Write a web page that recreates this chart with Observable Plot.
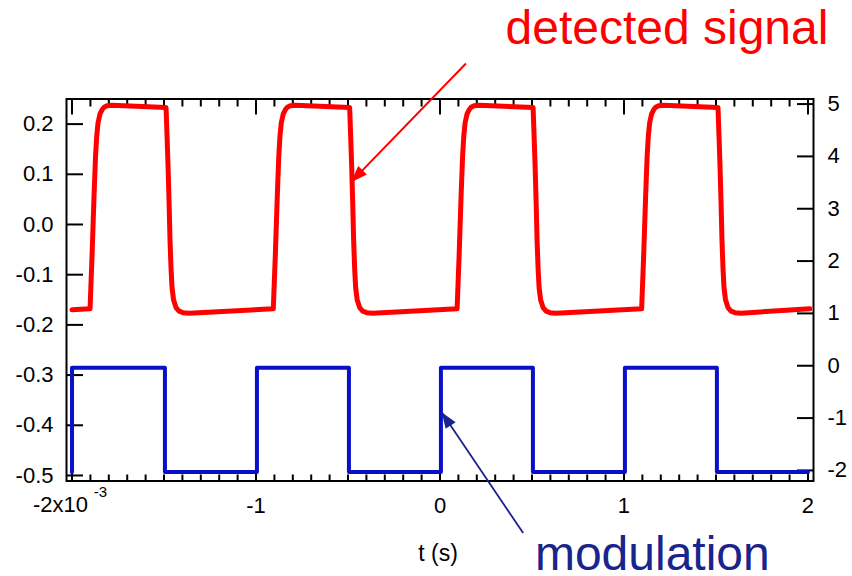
<!DOCTYPE html>
<html><head><meta charset="utf-8">
<script src="https://cdn.jsdelivr.net/npm/d3@7"></script>
<script src="https://cdn.jsdelivr.net/npm/@observablehq/plot@0.6"></script>
<style>body{margin:0;background:#fff} #chart{width:852px;height:576px}</style>
</head><body><div id="chart"></div>
<script>
// detected signal (left axis units).
// Each cycle: the rise edge (offsets from the rise start) and the fall edge (offsets from the fall start).
const riseStarts = [-1.902, -0.906, 0.093, 1.096];
const fallStarts = [-1.489, -0.491, 0.506, 1.511];
const riseDt = [0, 0.0109, 0.0217, 0.0299, 0.0364, 0.0435, 0.0543, 0.0652, 0.0761, 0.0924, 0.1196];
const riseV  = [-0.168, -0.0621, 0.0573, 0.1369, 0.1767, 0.2026, 0.2205, 0.2285, 0.2335, 0.2365, 0.2375];
const fallDt = [0, 0.0054, 0.0109, 0.0163, 0.0217, 0.0272, 0.0326, 0.0408, 0.0543, 0.0707, 0.0924, 0.125];
const fallV  = [0.233, 0.1768, 0.1170, 0.0474, -0.0322, -0.0880, -0.1258, -0.1497, -0.1656, -0.1726, -0.1756, -0.1766];
const redStart = {t: -2.000, v: -0.170};
const redEnd = {t: 2.010, v: -0.168};

// modulation (right axis units), step transitions
const modT = [-2.001, -2.000, -1.495, -0.995, -0.495, 0.005, 0.505, 1.005, 1.505, 2.000];
const modR = [-2.03, -0.04, -2.03, -0.04, -2.03, -0.04, -2.03, -0.04, -2.03, -2.03];

const leftTicks = [0.2, 0.1, 0.0, -0.1, -0.2, -0.3, -0.4, -0.5];
const rightTicks = [5, 4, 3, 2, 1, 0, -1, -2];
const xLabelTicks = [-1, 0, 1, 2];
const xMajor = [-2, -1, 0, 1, 2];
const xMinor = d3.range(-20, 21).map(i => i / 10);

// right axis -> left axis mapping
const R0 = -0.2814, RK = 0.10426;
const rToV = r => R0 + RK * r;

// annotation arrows: [start, tip]
const redArrowT = [0.141, -0.485], redArrowV = [0.3207, 0.0838];
const blueArrowT = [0.452, 0.0092], blueArrowV = [-0.6148, -0.374];

const FONT = '"Liberation Sans", Arial, Helvetica, sans-serif';
const RED = "#ff0000", BLUE = "#0a10c8", NAVY = "#19248c";

const red = [redStart];
riseStarts.forEach((t0, c) => {
  riseDt.forEach((dt, i) => red.push({t: t0 + dt, v: riseV[i]}));
  fallDt.forEach((dt, i) => red.push({t: fallStarts[c] + dt, v: fallV[i]}));
});
red.push(redEnd);
const mod = modT.map((t, i) => ({t, v: rToV(modR[i])}));

const chart = Plot.plot({
  width: 852, height: 576,
  marginTop: 98.5, marginBottom: 95.5, marginLeft: 66, marginRight: 39,
  style: {fontFamily: FONT, fontSize: "22px", color: "#000", background: "#fff", overflow: "visible"},
  x: {domain: [-2.03, 2.03]},
  y: {domain: [-0.511, 0.25]},
  marks: [
    // left axis: inward ticks + labels
    Plot.axisY({anchor: "left", ticks: leftTicks, tickSize: 17, dx: 17, strokeWidth: 2, tickFormat: () => "", label: null}),
    Plot.axisY({anchor: "left", ticks: leftTicks, tickSize: 0, tickPadding: 13, tickFormat: d => d.toFixed(1), label: null}),
    // right axis
    Plot.axisY({anchor: "right", ticks: rightTicks.map(rToV), tickSize: 17, dx: -17, strokeWidth: 2, tickFormat: () => "", label: null}),
    Plot.axisY({anchor: "right", ticks: rightTicks.map(rToV), tickSize: 0, tickPadding: 14, tickFormat: v => String(Math.round((v - R0) / RK)), label: null}),
    // top axis ticks
    Plot.axisX({anchor: "top", ticks: xMinor, tickSize: 7, dy: 7, strokeWidth: 2, tickFormat: () => "", label: null}),
    Plot.axisX({anchor: "top", ticks: xMajor, tickSize: 15, dy: 15, strokeWidth: 2, tickFormat: () => "", label: null}),
    // bottom axis ticks + labels
    Plot.axisX({anchor: "bottom", ticks: xMinor, tickSize: 6, dy: -6, strokeWidth: 2, tickFormat: () => "", label: null}),
    Plot.axisX({anchor: "bottom", ticks: xMajor, tickSize: 10, dy: -10, strokeWidth: 2, tickFormat: () => "", label: null}),
    Plot.axisX({anchor: "bottom", ticks: xLabelTicks, tickSize: 0, tickPadding: 16, tickFormat: d => String(d), label: null}),
    Plot.text(["-2x10"], {x: -2.0625, y: -0.5736, textAnchor: "middle", lineAnchor: "bottom", fontSize: 22, fill: "#000"}),
    Plot.text(["-3"], {x: -1.845, y: -0.5438, textAnchor: "middle", lineAnchor: "bottom", fontSize: 15, fill: "#000"}),
    Plot.frame({stroke: "#000", strokeWidth: 2}),
    // data
    Plot.line(mod, {x: "t", y: "v", curve: "step-after", stroke: BLUE, strokeWidth: 4}),
    Plot.line(red, {x: "t", y: "v", stroke: RED, strokeWidth: 5, strokeLinejoin: "round", strokeLinecap: "round"}),
    // annotations
    Plot.link([0], {x1: () => redArrowT[0], y1: () => redArrowV[0], x2: () => redArrowT[1], y2: () => redArrowV[1], stroke: RED, strokeWidth: 2}),
    Plot.vector([{t: redArrowT[1], v: redArrowV[1]}], {x: "t", y: "v", rotate: -135.9, length: 17, r: 6, shape: "spike", anchor: "end", fill: RED, stroke: "none"}),
    Plot.link([0], {x1: () => blueArrowT[0], y1: () => blueArrowV[0], x2: () => blueArrowT[1], y2: () => blueArrowV[1], stroke: NAVY, strokeWidth: 1.8}),
    Plot.vector([{t: blueArrowT[1], v: blueArrowV[1]}], {x: "t", y: "v", rotate: -33.9, length: 16, r: 6, shape: "spike", anchor: "end", fill: NAVY, stroke: "none"}),
    Plot.text(["detected signal"], {x: 0.356, y: 0.3599, textAnchor: "start", lineAnchor: "bottom", fontSize: 48, fill: RED}),
    Plot.text(["modulation"], {x: 0.516, y: -0.688, textAnchor: "start", lineAnchor: "bottom", fontSize: 48, fill: NAVY}),
    Plot.text(["t (s)"], {x: -0.0109, y: -0.6696, textAnchor: "middle", lineAnchor: "bottom", fontSize: 23, fill: "#000"})
  ]
});
document.getElementById("chart").appendChild(chart);
</script>
</body></html>
